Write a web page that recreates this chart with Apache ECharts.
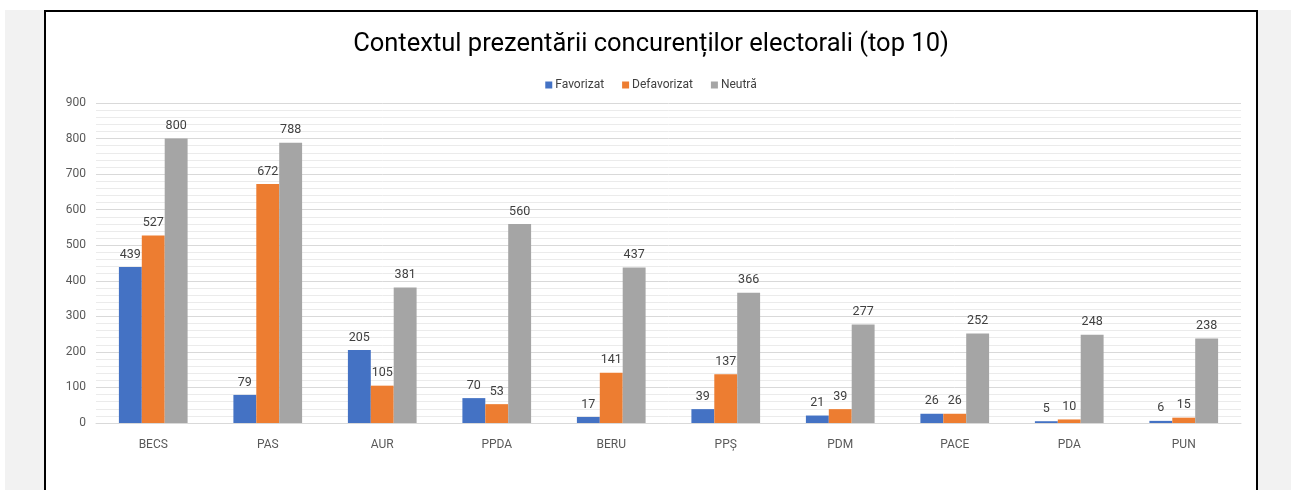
<!DOCTYPE html>
<html>
<head>
<meta charset="utf-8">
<script src="https://cdn.jsdelivr.net/npm/echarts@6/dist/echarts.min.js"></script>
<style>
  html, body { margin: 0; padding: 0; background: #fff; }
  #bg { position: absolute; left: 5px; top: 10px; width: 1286px; height: 480px; background: #f2f2f2; }
  #main { position: absolute; left: 44px; top: 10px; width: 1210px; height: 480px;
          background: #fff; border: 2px solid #000; border-bottom: none; }
</style>
</head>
<body>
<div id="bg"></div>
<div id="main"></div>
<script>
// categorii si valori
var categories = ['BECS', 'PAS', 'AUR', 'PPDA', 'BERU', 'PPȘ', 'PDM', 'PACE', 'PDA', 'PUN'];
var favorizat = [439, 79, 205, 70, 17, 39, 21, 26, 5, 6];
var defavorizat = [527, 672, 105, 53, 141, 137, 39, 26, 10, 15];
var neutra = [800, 788, 381, 560, 437, 366, 277, 252, 248, 238];
var yTicks = [0, 100, 200, 300, 400, 500, 600, 700, 800, 900];

var myChart = echarts.init(document.getElementById('main'));

function barSeries(name, data, color) {
    return {
        name: name,
        type: 'bar',
        data: data,
        barGap: '0%',
        barCategoryGap: '40%',
        itemStyle: { color: color },
        label: {
            show: true,
            position: 'top',
            distance: 6,
            color: '#404040',
            fontSize: 12.5,
            fontFamily: 'Roboto'
        }
    };
}

var option = {
    animation: false,
    textStyle: { fontFamily: 'Roboto' },
    title: {
        text: 'Contextul prezentării concurenților electorali (top 10)',
        left: 'center',
        top: 15,
        textStyle: {
            color: '#000',
            fontSize: 25.5,
            fontWeight: 'normal',
            fontFamily: 'Roboto'
        }
    },
    legend: {
        top: 62,
        left: 'center',
        itemWidth: 7,
        itemHeight: 7,
        itemGap: 18,
        icon: 'rect',
        textStyle: { color: '#404040', fontSize: 12, padding: [0, 0, 0, -2] }
    },
    grid: {
        left: 50,
        right: 15,
        top: 91,
        bottom: 69
    },
    xAxis: {
        type: 'category',
        data: categories,
        axisLine: { lineStyle: { color: '#d9d9d9' } },
        axisTick: { show: false },
        axisLabel: { color: '#595959', fontSize: 12, margin: 16 }
    },
    yAxis: {
        type: 'value',
        min: yTicks[0],
        max: yTicks[yTicks.length - 1],
        interval: 100,
        axisLine: { show: false },
        axisTick: { show: false },
        axisLabel: { color: '#595959', fontSize: 12, margin: 10 },
        splitLine: { lineStyle: { color: '#d9d9d9' } },
        minorTick: { show: false, splitNumber: 5 },
        minorSplitLine: { show: true, lineStyle: { color: '#ebebeb' } }
    },
    series: [
        barSeries('Favorizat', favorizat, '#4472c4'),
        barSeries('Defavorizat', defavorizat, '#ed7d31'),
        barSeries('Neutră', neutra, '#a5a5a5')
    ]
};
myChart.setOption(option);
</script>
</body>
</html>
